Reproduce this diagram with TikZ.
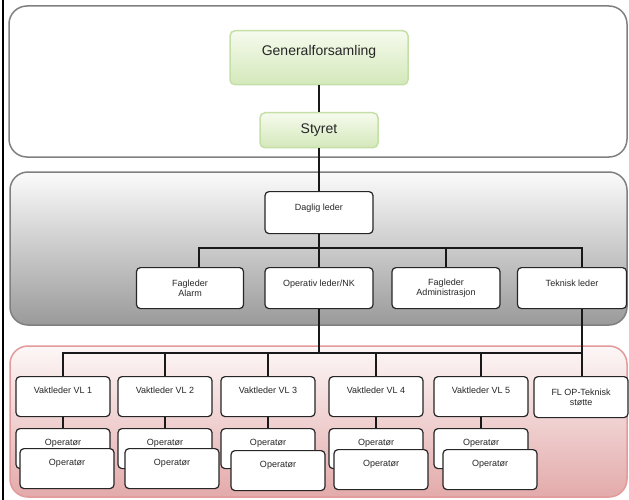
\documentclass[tikz,border=0pt]{standalone}
\usepackage{fontspec}
\setmainfont{Liberation Sans}
\usetikzlibrary{calc}

\definecolor{panelline}{HTML}{808080}
\definecolor{graytop}{HTML}{FBFBFB}
\definecolor{graybot}{HTML}{9A9A9A}
\definecolor{pinkline}{HTML}{E39A9A}
\definecolor{pinktop}{HTML}{FDF7F7}
\definecolor{pinkbot}{HTML}{E3AAAA}
\definecolor{greenline}{HTML}{C6DFA6}
\definecolor{greentop}{HTML}{F6FBEE}
\definecolor{greenbot}{HTML}{D3E8BA}

\tikzset{
	panel/.style={line width=1.5pt, draw=panelline, rounded corners=18pt},
	greenbox/.style={draw=greenline, line width=1.5pt, rounded corners=5pt, top color=greentop, bottom color=greenbot, text=black!85, font=\fontsize{14}{16}\selectfont, anchor=north},
	orgbox/.style={draw=black!85, line width=1.2pt, rounded corners=4pt, fill=white, text=black!85, font=\fontsize{9}{10.5}\selectfont, inner ysep=0pt, align=center, anchor=north},
	vlbox/.style={orgbox, minimum width=94pt, text height=17pt, text depth=23pt},
	leaderbox/.style={orgbox, minimum width=108pt, minimum height=41pt},
	conn/.style={line width=1.2pt, black!90},
}

\begin{document}
\begin{tikzpicture}[x=1pt, y=-1pt]
		%%%%% START %%%%%
		\useasboundingbox (0, 0) rectangle (629, 500);
		
		\draw[panel, fill=white] (9, 6) rectangle (627, 157);
		\draw[panel, top color=graytop, bottom color=graybot] (10, 172) rectangle (627, 325);
		\draw[panel, draw=pinkline, top color=pinktop, bottom color=pinkbot] (10, 346) rectangle (627, 497);
		\draw[line width=2pt] (2.5, 0) -- (2.5, 500);
		
		\node[greenbox, minimum width=178pt, inner ysep=0pt, text height=25pt, text depth=29pt] (gf) at (319, 30) {Generalforsamling};
		\node[greenbox, minimum width=118pt, minimum height=35pt] (styret) at (319, 112) {Styret};
		
		\node[orgbox, minimum width=108pt, text height=19pt, text depth=23pt] (daglig) at (319, 191) {Daglig leder};
		\node[leaderbox, minimum width=107pt] (falarm) at (190, 267) {Fagleder\\Alarm};
		\node[orgbox, minimum width=108pt, text height=19pt, text depth=22pt] (opleder) at (319, 267) {Operativ leder/NK};
		\node[leaderbox] (fadmin) at (446, 267) {Fagleder\\Administrasjon};
		\node[orgbox, minimum width=109pt, text height=19pt, text depth=22pt] (teknisk) at (572, 267) {Teknisk leder};
		
		\node[vlbox] (vl1) at (63, 376) {Vaktleder VL 1};
		\node[vlbox] (vl2) at (165, 376) {Vaktleder VL 2};
		\node[vlbox] (vl3) at (268, 376) {Vaktleder VL 3};
		\node[vlbox] (vl4) at (376, 376) {Vaktleder VL 4};
		\node[vlbox] (vl5) at (481, 376) {Vaktleder VL 5};
		\node[orgbox, minimum width=94pt, minimum height=41pt] (flop) at (581, 376) {FL OP-Teknisk\\støtte};
		
		\node[vlbox] (opb1) at (63, 428) {Operatør};
		\node[vlbox] (opf1) at (67, 448) {Operatør};
		\node[vlbox] (opb2) at (165, 428) {Operatør};
		\node[vlbox] (opf2) at (172, 448) {Operatør};
		\node[vlbox] (opb3) at (268, 428) {Operatør};
		\node[vlbox] (opf3) at (278, 450) {Operatør};
		\node[vlbox] (opb4) at (376, 428) {Operatør};
		\node[vlbox] (opf4) at (381, 449) {Operatør};
		\node[vlbox] (opb5) at (481, 428) {Operatør};
		\node[vlbox] (opf5) at (490, 449) {Operatør};
		
		\coordinate (fa) at (199, 248);
		\coordinate (tk) at (582, 248);
		\coordinate (bus) at (319, 353);
		
		\draw[conn] (gf) -- (styret);
		\draw[conn] (styret.south) -- (daglig.north);
		\draw[conn] (daglig.south) -- (opleder.north);
		\draw[conn] (fa |- falarm.north) -- (fa) -- (tk) -- (tk |- teknisk.north);
		\draw[conn] (fadmin.north) -- (fadmin.north |- tk);
		
		\draw[conn] (opleder.south) -- (bus);
		\draw[conn] (vl1.north) |- (bus) -| (vl5.north);
		\draw[conn] (vl2.north) -- (vl2.north |- bus);
		\draw[conn] (vl3.north) -- (vl3.north |- bus);
		\draw[conn] (vl4.north) -- (vl4.north |- bus);
		\draw[conn] (teknisk.south -| tk) -- (flop.north -| tk);
		\draw[conn] (vl5.north |- bus) -- (bus -| tk);
		
		\draw[conn] (vl1.south) -- (opb1.north);
		\draw[conn] (vl2.south) -- (opb2.north);
		\draw[conn] (vl3.south) -- (opb3.north);
		\draw[conn] (vl4.south) -- (opb4.north);
		\draw[conn] (vl5.south) -- (opb5.north);
		
		%%%%% END %%%%%
	\end{tikzpicture}
\end{document}
